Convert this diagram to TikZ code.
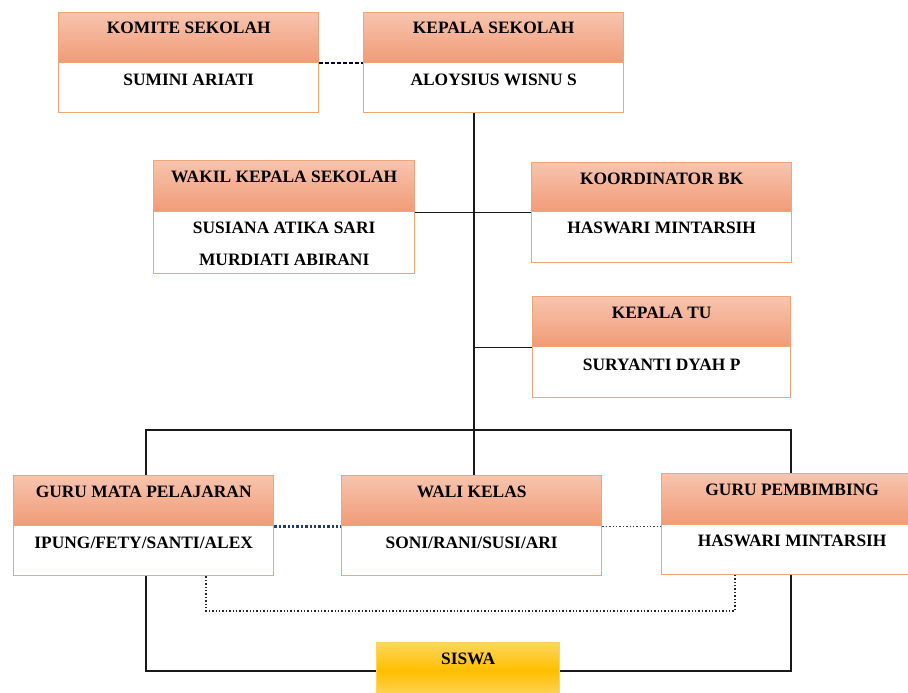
\documentclass[tikz,border=0pt]{standalone}
\usepackage{fontspec}
\setmainfont{Liberation Serif}
\usetikzlibrary{calc}
\definecolor{hdrtop}{RGB}{247,196,174}
\definecolor{hdrbot}{RGB}{241,155,118}
\definecolor{hdrline}{RGB}{240,165,115}
\definecolor{sistop}{RGB}{255,214,90}
\definecolor{sismid}{RGB}{255,190,0}
\definecolor{sisbot}{RGB}{255,214,100}
\definecolor{sisline}{RGB}{255,212,90}
\definecolor{navy}{RGB}{35,60,120}
\begin{document}
\begin{tikzpicture}[x=1pt,y=-1pt,
  hdr/.style={draw=hdrline, line width=1.4pt, top color=hdrtop, bottom color=hdrbot, anchor=north west, inner sep=0pt},
  bdy/.style={draw=hdrline, line width=1.4pt, fill=white, anchor=north west, inner sep=0pt},
  sis/.style={draw=sisline, line width=1.4pt, top color=sistop, bottom color=sisbot, middle color=sismid, anchor=north west, inner sep=0pt},
  tx/.style={font=\fontsize{17.4}{20}\selectfont\bfseries, inner sep=0pt, text height=11.5pt, text depth=0pt, anchor=center},
  conn/.style={line width=1.8pt, black!90},
]
\useasboundingbox (0,0) rectangle (908,693);
\clip (0,0) rectangle (908,693);

% Komite Sekolah
\node[hdr, minimum width=260pt, minimum height=50pt] (kh) at (58,12) {};
\node[bdy, minimum width=260pt, minimum height=50pt] (kb) at (58,62) {};
\node[tx] (kht) at ([yshift=-16pt]kh.north) {KOMITE SEKOLAH};
\node[tx] (kbt) at ([yshift=-18pt]kb.north) {SUMINI ARIATI};

% Kepala Sekolah
\node[hdr, minimum width=260pt, minimum height=50pt] (ksh) at (363,12) {};
\node[bdy, minimum width=260pt, minimum height=50pt] (ksb) at (363,62) {};
\node[tx] (ksht) at ([yshift=-16pt]ksh.north) {KEPALA SEKOLAH};
\node[tx] (ksbt) at ([yshift=-18pt]ksb.north) {ALOYSIUS WISNU S};

% Wakil
\node[hdr, minimum width=261pt, minimum height=51pt] (wkh) at (153,160) {};
\node[bdy, minimum width=261pt, minimum height=62pt] (wkb) at (153,211) {};
\node[tx] (wkht) at ([yshift=-17pt]wkh.north) {WAKIL KEPALA SEKOLAH};
\node[tx] (wkbt1) at ([yshift=-17pt]wkb.north) {SUSIANA ATIKA SARI};
\node[tx] (wkbt2) at ([yshift=-49pt]wkb.north) {MURDIATI ABIRANI};

% Koordinator BK
\node[hdr, minimum width=260pt, minimum height=49pt] (bkh) at (531,162) {};
\node[bdy, minimum width=260pt, minimum height=51pt] (bkb) at (531,211) {};
\node[tx] (bkht) at ([yshift=-17pt]bkh.north) {KOORDINATOR BK};
\node[tx] (bkbt) at ([yshift=-17pt]bkb.north) {HASWARI MINTARSIH};

% Kepala TU
\node[hdr, minimum width=258pt, minimum height=50pt] (tuh) at (532,296) {};
\node[bdy, minimum width=258pt, minimum height=51pt] (tub) at (532,346) {};
\node[tx] (tuht) at ([yshift=-17pt]tuh.north) {KEPALA TU};
\node[tx] (tubt) at ([yshift=-19pt]tub.north) {SURYANTI DYAH P};

% Guru Mata Pelajaran
\node[hdr, minimum width=260pt, minimum height=50pt] (gmh) at (13,475) {};
\node[bdy, minimum width=260pt, minimum height=50pt] (gmb) at (13,525) {};
\node[tx] (gmht) at ([yshift=-17pt]gmh.north) {GURU MATA PELAJARAN};
\node[tx] (gmbt) at ([yshift=-18pt]gmb.north) {IPUNG/FETY/SANTI/ALEX};

% Wali Kelas
\node[hdr, minimum width=260pt, minimum height=50pt] (wlh) at (341,475) {};
\node[bdy, minimum width=260pt, minimum height=50pt] (wlb) at (341,525) {};
\node[tx] (wlht) at ([yshift=-17pt]wlh.north) {WALI KELAS};
\node[tx] (wlbt) at ([yshift=-18pt]wlb.north) {SONI/RANI/SUSI/ARI};

% Guru Pembimbing
\node[hdr, minimum width=261pt, minimum height=51pt] (gph) at (661,473) {};
\node[bdy, minimum width=261pt, minimum height=50pt] (gpb) at (661,524) {};
\node[tx] (gpht) at ([yshift=-17pt]gph.north) {GURU PEMBIMBING};
\node[tx] (gpbt) at ([yshift=-17pt]gpb.north) {HASWARI MINTARSIH};

% Siswa
\node[sis, minimum width=183pt, minimum height=56pt] (sw) at (376,642) {};
\node[tx] (swt) at ([yshift=-17pt]sw.north) {SISWA};

% junction coordinates
\coordinate (j1) at (474,430);
\coordinate (bl) at (146,430);
\coordinate (br) at (791,430);
\coordinate (dl) at (206,611);
\coordinate (dr) at (735,611);

% connectors
\draw[line width=1.8pt, color=black!80!blue, dash pattern=on 4pt off 2pt] (kh.south east) -- (ksh.south west);
\draw[conn] (ksb.south -| j1) -- (j1);
\draw[conn] (wkh.south east) -- (bkh.south west);
\draw[conn] (tuh.south west -| j1) -- (tuh.south west);
\draw[conn] (gmh.north -| bl) -- (bl) -- (br) -- (gph.north -| br);
\draw[conn] (j1) -- (wlh.north -| j1);
\draw[line width=2.4pt, navy, dotted] (gmh.south east) -- (wlh.south west);
\draw[line width=1.4pt, black!75, dotted] (wlh.south east) -- (gph.south west |- wlh.south east);
\draw[line width=1.4pt, black!85, dotted] (gmb.south -| dl) -- (dl) -- (dr) -- (gpb.south -| dr);
\draw[conn] (gmb.south -| bl) |- (sw.west);
\draw[conn] (gpb.south -| br) |- (sw.east);
\end{tikzpicture}
\end{document}
